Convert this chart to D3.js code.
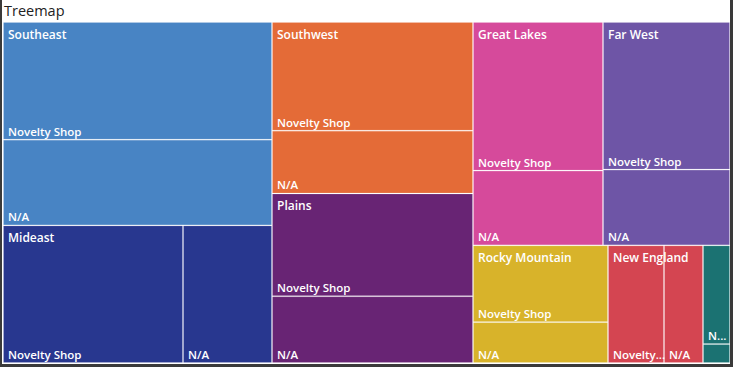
<!DOCTYPE html>
<html>
<head>
<meta charset="utf-8">
<script src="https://cdn.jsdelivr.net/npm/d3@7"></script>
<style>
  html, body { margin: 0; padding: 0; background: #ffffff; }
  svg { display: block; }
  text { font-family: "Open Sans", "Noto Sans", sans-serif; }
</style>
</head>
<body>
<svg id="chart" width="733" height="367"></svg>
<script>
// ---- Data ----
const title = "Treemap";
const regions = ["Southeast", "Mideast", "Southwest", "Plains", "Great Lakes", "Far West", "Rocky Mountain", "New England", "Other"];
const subCategories = ["Novelty Shop", "N/A"];
const noveltyShopValues = [31742, 24840, 21909, 20703, 19370, 18796, 10395, 6608, 2673];
const naValues = [23134, 12282, 12663, 13467, 9750, 9652, 5535, 4602, 513];
const regionColors = ["#4884c4", "#28378f", "#e46b37", "#682474", "#d64a9b", "#6e55a6", "#d8b32a", "#d44551", "#1b7272"];

// ---- Layout ----
const W = 733, H = 367;
const plot = { x: 3, y: 22, w: 727, h: 341 };

const svg = d3.select("#chart");

svg.append("rect").attr("x", 0).attr("y", 0).attr("width", W).attr("height", H).attr("fill", "#ffffff");

svg.append("text")
  .attr("x", 4).attr("y", 16)
  .attr("font-size", "14.5px")
  .attr("fill", "#222222")
  .text(title);

const rootData = {
  name: "root",
  children: regions.map((r, i) => ({
    name: r,
    children: [
      { name: subCategories[0], value: noveltyShopValues[i] },
      { name: subCategories[1], value: naValues[i] }
    ]
  }))
};

const root = d3.hierarchy(rootData)
  .sum(d => d.value || 0)
  .sort((a, b) => b.value - a.value);

d3.treemap()
  .tile(d3.treemapSquarify)
  .size([plot.w, plot.h])
  .paddingInner(0)
  (root);

const color = d3.scaleOrdinal().domain(regions).range(regionColors);

const g = svg.append("g").attr("transform", `translate(${plot.x},${plot.y})`);

const parents = g.selectAll("g.region")
  .data(root.children)
  .join("g")
  .attr("class", "region");

parents.selectAll("rect.leaf")
  .data(d => d.leaves())
  .join("rect")
  .attr("class", "leaf")
  .attr("x", d => d.x0 + 0.5)
  .attr("y", d => d.y0 + 0.5)
  .attr("width", d => Math.max(0, d.x1 - d.x0 - 1))
  .attr("height", d => Math.max(0, d.y1 - d.y0 - 1))
  .attr("fill", d => color(d.parent.data.name))
  .attr("stroke", "rgba(255,255,255,0.14)")
  .attr("stroke-width", 1);

function fitText(sel, text, maxW, allowTrunc) {
  sel.text(text);
  if (sel.node().getComputedTextLength() <= maxW) return true;
  if (!allowTrunc) { sel.remove(); return false; }
  let s = text;
  while (s.length > 1) {
    s = s.slice(0, -1).trimEnd();
    sel.text(s + "...");
    if (sel.node().getComputedTextLength() <= maxW) return true;
  }
  sel.text(s + "...");
  return true;
}

// leaf labels (bottom-left)
root.leaves().forEach(d => {
  const w = d.x1 - d.x0, h = d.y1 - d.y0;
  if (h < 24) return;
  const t = g.append("text")
    .attr("x", d.x0 + 5)
    .attr("y", d.y1 - 4)
    .attr("font-size", "11.5px")
    .attr("fill", "#ffffff")
    .attr("font-weight", 600);
  fitText(t, d.data.name, w - 2, true);
});

// region labels (top-left)
root.children.forEach(d => {
  const w = d.x1 - d.x0;
  const t = g.append("text")
    .attr("x", d.x0 + 5)
    .attr("y", d.y0 + 16.5)
    .attr("font-size", "12px")
    .attr("fill", "#ffffff")
    .attr("font-weight", 600);
  fitText(t, d.data.name, w - 6, false);
});

// outer frame
svg.append("rect").attr("x", 0).attr("y", 0).attr("width", 2).attr("height", H).attr("fill", "#3a3a3a");
svg.append("rect").attr("x", W - 3).attr("y", 0).attr("width", 3).attr("height", H).attr("fill", "#3a3a3a");
svg.append("rect").attr("x", 0).attr("y", H - 3).attr("width", W).attr("height", 3).attr("fill", "#3a3a3a");
</script>
</body>
</html>
